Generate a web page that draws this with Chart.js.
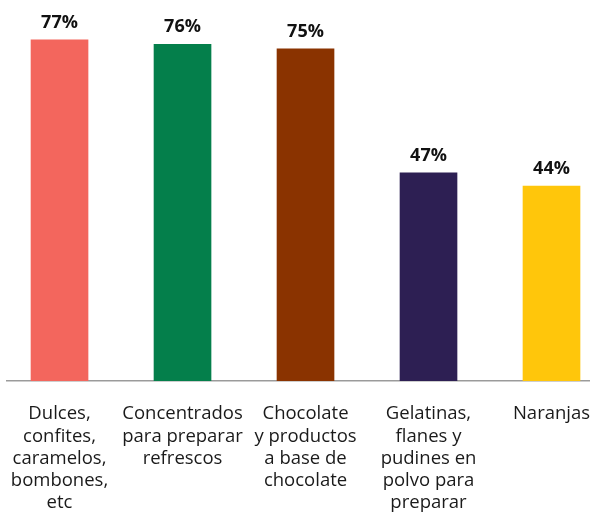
<!DOCTYPE html>
<html>
<head>
<meta charset="utf-8">
<script src="https://cdn.jsdelivr.net/npm/chart.js@4.4.1/dist/chart.umd.min.js"></script>
<style>
  html, body { margin: 0; padding: 0; background: #fff; }
  #wrap { width: 590px; height: 513px; position: relative; }
</style>
</head>
<body>
<div id="wrap"><canvas id="sharesChart"></canvas></div>
<script>
// --- data ---
const categories = [
  ['Dulces,', 'confites,', 'caramelos,', 'bombones,', 'etc'],
  ['Concentrados', 'para preparar', 'refrescos'],
  ['Chocolate', 'y productos', 'a base de', 'chocolate'],
  ['Gelatinas,', 'flanes y', 'pudines en', 'polvo para', 'preparar'],
  ['Naranjas']
];
const shares = [77, 76, 75, 47, 44];

const barColors = ['#F3665D', '#047F4B', '#8A3300', '#2D1F53', '#FFC60B'];

// percent labels above each bar
const valueLabels = {
  id: 'valueLabels',
  afterDatasetsDraw(chart) {
    const { ctx } = chart;
    const meta = chart.getDatasetMeta(0);
    ctx.save();
    ctx.font = 'bold 18px "Open Sans"';
    ctx.fillStyle = '#111';
    ctx.textAlign = 'center';
    ctx.textBaseline = 'alphabetic';
    meta.data.forEach((bar, i) => {
      ctx.fillText(shares[i] + '%', bar.x, bar.y - 12);
    });
    ctx.restore();
  }
};

const ctx = document.getElementById('sharesChart').getContext('2d');

new Chart(ctx, {
  type: 'bar',
  data: {
    datasets: [{
      data: shares.map((v, i) => ({ x: i, y: v })),
      backgroundColor: barColors,
      borderWidth: 0,
      barThickness: 57
    }]
  },
  options: {
    responsive: true,
    maintainAspectRatio: false,
    animation: false,
    layout: { padding: { left: 7, right: 0, top: 0, bottom: 0 } },
    scales: {
      x: {
        type: 'linear',
        bounds: 'data',
        min: -0.427,
        max: 4.313,
        offset: false,
        grid: { display: false, drawTicks: false },
        border: { display: true, color: '#9b9b9b', width: 1.5 },
        afterBuildTicks: (scale) => {
          scale.ticks = categories.map((_, i) => ({ value: i }));
        },
        afterFit: (scale) => {
          scale.height = 132;
          // labels already fit inside the canvas, don't shrink the plot
          scale.paddingLeft = 0;
          scale.paddingRight = 0;
        },
        ticks: {
          callback: (value, index) => categories[index],
          autoSkip: false,
          maxRotation: 0,
          minRotation: 0,
          padding: 22,
          color: '#1a1a1a',
          font: { family: '"Open Sans"', size: 18.5, lineHeight: 1.2 }
        }
      },
      y: {
        display: false,
        min: 0,
        max: 86
      }
    },
    plugins: {
      legend: { display: false },
      tooltip: { enabled: false }
    }
  },
  plugins: [valueLabels]
});
</script>
</body>
</html>
